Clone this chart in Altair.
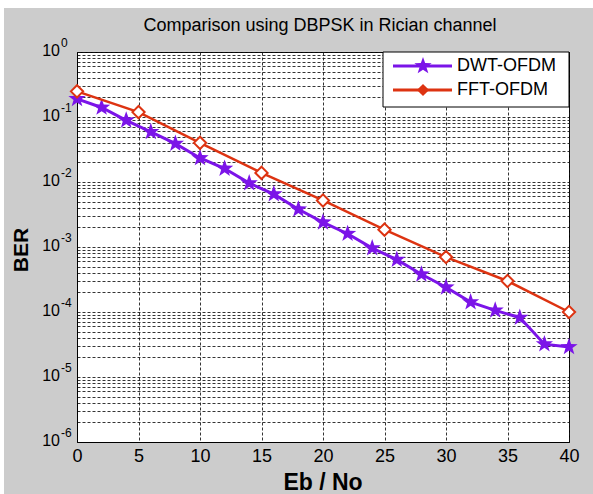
import math
import altair as alt
import pandas as pd

# ---- data ----
dwt_x = [0, 2, 4, 6, 8, 10, 12, 14, 16, 18, 20, 22, 24, 26, 28, 30, 32, 34, 36, 38, 40]
dwt_ber = [0.19, 0.14, 0.089, 0.059, 0.039, 0.0234, 0.0161, 0.0096, 0.0065, 0.0038,
           0.0024, 0.0016, 0.00096, 0.00064, 0.00038, 0.00024, 0.000142, 0.000106,
           0.000082, 0.000032, 0.000029]
fft_x = [0, 5, 10, 15, 20, 25, 30, 35, 40]
fft_ber = [0.248, 0.119, 0.040, 0.0138, 0.0052, 0.00185, 0.00070, 0.00030, 0.0001]

x_ticks = [0, 5, 10, 15, 20, 25, 30, 35, 40]
y_exps = [0, -1, -2, -3, -4, -5, -6]
series_names = ["DWT-OFDM", "FFT-OFDM"]

PURPLE = "#7B14E8"
RED = "#DD3311"
FONT = "Liberation Sans"

pts = []
for i in range(10):
    ang = math.radians(-90 + 36 * i)
    r = 1.0 if i % 2 == 0 else 0.4
    pts.append(f"{r * math.cos(ang):.3f},{r * math.sin(ang):.3f}")
STAR = "M" + "L".join(pts) + "Z"

dwt = pd.DataFrame({"x": dwt_x, "ber": dwt_ber})
fft = pd.DataFrame({"x": fft_x, "ber": fft_ber})
exps = pd.DataFrame({"v": [10.0 ** e for e in y_exps], "exp": [str(e) for e in y_exps]})
one = pd.DataFrame({"a": [0]})

grid_vals = [k * 10.0 ** e for e in range(-6, 0) for k in range(1, 10)] + [1.0]

xsc = alt.Scale(domain=[0, 40], nice=False)
ysc = alt.Scale(type="log", domain=[1e-6, 1], nice=False)

X = alt.X("x:Q", scale=xsc,
          axis=alt.Axis(values=x_ticks, grid=True, gridDash=[3, 2], gridColor="#111",
                        gridOpacity=0.85, ticks=False, labelFontSize=18, labelFont=FONT,
                        labelColor="black", labelPadding=5, domainColor="black",
                        title=None, labelFlush=False))
Y = alt.Y("ber:Q", scale=ysc,
          axis=alt.Axis(values=grid_vals, grid=True, gridDash=[3, 2], gridColor="#111",
                        gridOpacity=0.85, ticks=False, labels=False, domainColor="black",
                        title=None))

dwt_line = alt.Chart(dwt).mark_line(color=PURPLE, strokeWidth=3).encode(x=X, y=Y)
dwt_pts = alt.Chart(dwt).mark_point(shape=STAR, filled=True, color=PURPLE, size=330,
                                    opacity=1).encode(x="x:Q", y=alt.Y("ber:Q", scale=ysc))
fft_line = alt.Chart(fft).mark_line(color=RED, strokeWidth=2.5).encode(
    x="x:Q", y=alt.Y("ber:Q", scale=ysc))
fft_pts = alt.Chart(fft).mark_point(shape="diamond", filled=False, fill="white", stroke=RED,
                                    strokeWidth=2, size=150, opacity=1).encode(
    x="x:Q", y=alt.Y("ber:Q", scale=ysc))

# y tick labels 10^e
ten = alt.Chart(exps).mark_text(text="10", align="right", baseline="middle", fontSize=16,
                                font=FONT, color="black", dy=-1).encode(
    x=alt.value(-17), y=alt.Y("v:Q", scale=ysc))
sup = alt.Chart(exps).mark_text(align="left", baseline="middle", fontSize=12,
                                font=FONT, color="black", dy=-9).encode(
    x=alt.value(-16), y=alt.Y("v:Q", scale=ysc), text="exp:N")

# titles
title = alt.Chart(one).mark_text(text="Comparison using DBPSK in Rician channel",
                                 fontSize=18, font=FONT, color="black", align="center",
                                 baseline="alphabetic").encode(
    x=alt.value(243), y=alt.value(-21))
ylab = alt.Chart(one).mark_text(text="BER", fontSize=21, fontWeight="bold", font=FONT,
                                color="black", angle=270, align="center",
                                baseline="middle").encode(
    x=alt.value(-55), y=alt.value(198))
xlab = alt.Chart(one).mark_text(text="Eb / No", fontSize=23, fontWeight="bold", font=FONT,
                                color="black", align="center", baseline="middle").encode(
    x=alt.value(246), y=alt.value(431))

# white strips of the figure border
top_strip = alt.Chart(one).mark_rect(color="white").encode(
    x=alt.value(-77), x2=alt.value(516), y=alt.value(-52), y2=alt.value(-44))
left_strip = alt.Chart(one).mark_rect(color="white").encode(
    x=alt.value(-77), x2=alt.value(-73), y=alt.value(-52), y2=alt.value(442))

# legend
leg_box = alt.Chart(one).mark_rect(fill="white", stroke="black", strokeWidth=1).encode(
    x=alt.value(306), x2=alt.value(492), y=alt.value(0), y2=alt.value(55))
leg_l1 = alt.Chart(one).mark_rule(color=PURPLE, strokeWidth=3).encode(
    x=alt.value(316), x2=alt.value(375), y=alt.value(14))
leg_p1 = alt.Chart(one).mark_point(shape=STAR, filled=True, color=PURPLE, size=330,
                                   opacity=1).encode(x=alt.value(346), y=alt.value(14))
leg_t1 = alt.Chart(one).mark_text(text=series_names[0], fontSize=18, font=FONT, color="black",
                                  align="left", baseline="middle").encode(
    x=alt.value(380), y=alt.value(14))
leg_l2 = alt.Chart(one).mark_rule(color=RED, strokeWidth=3).encode(
    x=alt.value(316), x2=alt.value(375), y=alt.value(38))
leg_p2 = alt.Chart(one).mark_point(shape="diamond", filled=True, color=RED, size=150,
                                   opacity=1).encode(x=alt.value(346), y=alt.value(38))
leg_t2 = alt.Chart(one).mark_text(text=series_names[1], fontSize=18, font=FONT, color="black",
                                  align="left", baseline="middle").encode(
    x=alt.value(380), y=alt.value(38))

chart = alt.layer(
    top_strip, left_strip,
    dwt_line, dwt_pts, fft_line, fft_pts,
    ten, sup, title, ylab, xlab,
    leg_box, leg_l1, leg_p1, leg_t1, leg_l2, leg_p2, leg_t2,
).properties(
    width=492, height=390,
    autosize=alt.AutoSizeParams(type="none"),
    padding={"left": 77, "top": 52, "right": 24, "bottom": 52},
    background="#cccccc",
).configure_view(
    fill="white", stroke="black", strokeWidth=1
)

chart.save("out.html", embed_options={"renderer": "svg", "actions": False})
